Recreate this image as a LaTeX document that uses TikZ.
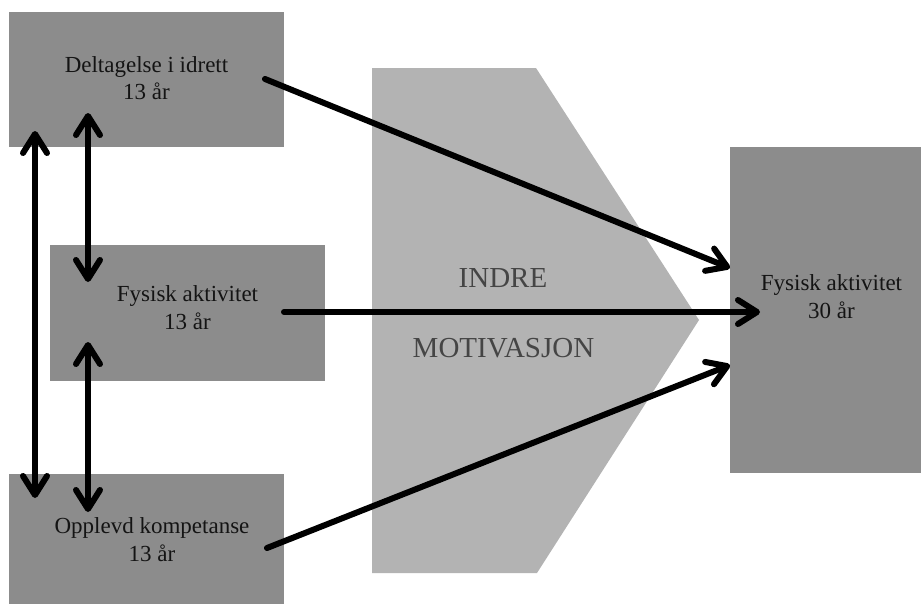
\documentclass[tikz,border=0pt]{standalone}
\usepackage{fontspec}
\setmainfont{Liberation Serif}
\usetikzlibrary{arrows.meta}
\definecolor{boxgray}{HTML}{8C8C8C}
\definecolor{chevgray}{HTML}{B3B3B3}
\definecolor{motivtext}{HTML}{454545}
\definecolor{lbltext}{HTML}{141414}
\begin{document}
\begin{tikzpicture}[x=1pt,y=-1pt,
  box/.style={fill=boxgray, draw=none, inner sep=0pt, outer sep=0pt},
  lbl/.style={align=center, inner sep=0pt, font=\fontsize{23}{27.5}\selectfont, text=lbltext},
  big/.style={inner sep=0pt, anchor=base, font=\fontsize{29}{34}\selectfont, text=motivtext},
  conn/.style={line width=6pt, line cap=round,
    -{Straight Barb[length=19pt,width=24pt,round]}},
  dconn/.style={line width=6pt, line cap=round,
    {Straight Barb[length=19pt,width=24pt,round]}-{Straight Barb[length=19pt,width=24pt,round]}}]
\useasboundingbox (0,0) rectangle (921,603);
\clip (0,0) rectangle (921,603);

% chevron
\fill[chevgray] (372,68) -- (536,68) -- (699,320) -- (537,573) -- (372,573) -- cycle;
\node[big] (indre) at (503,287) {INDRE};
\node[big] (motiv) at (503.5,357) {MOTIVASJON};

% boxes
\node[box, minimum width=275pt, minimum height=135pt] (b1) at (146.5,79.5) {};
\node[box, minimum width=275pt, minimum height=136pt] (b2) at (187.5,313) {};
\node[box, minimum width=275pt, minimum height=135pt] (b3) at (146.5,541.5) {};
\node[box, minimum width=203pt, minimum height=326pt] (b4) at (831.5,310) {};

% labels
\node[lbl] (t1) at (146.5,78) {Deltagelse i idrett\\13 år};
\node[lbl] (t2) at (187.5,307.7) {Fysisk aktivitet\\13 år};
\node[lbl] (t3) at (152,539.5) {Opplevd kompetanse\\13 år};
\node[lbl] (t4) at (831.5,296.7) {Fysisk aktivitet\\30 år};

% connector end points
\coordinate (a1s) at (265,79);
\coordinate (a1e) at (730,268);
\coordinate (a2s) at (284,312);
\coordinate (a2e) at (760,312);
\coordinate (a3s) at (267,548);
\coordinate (a3e) at (730,365);
\coordinate (v1t) at (35,131);
\coordinate (v1b) at (35,498);
\coordinate (v2t) at (88,113);
\coordinate (v2b) at (88,282);
\coordinate (v3t) at (88,342);
\coordinate (v3b) at (88,512);

\draw[conn] (a1s) -- (a1e);
\draw[conn] (a2s) -- (a2e);
\draw[conn] (a3s) -- (a3e);
\draw[dconn] (v1t) -- (v1b);
\draw[dconn] (v2t) -- (v2b);
\draw[dconn] (v3t) -- (v3b);
\end{tikzpicture}
\end{document}
